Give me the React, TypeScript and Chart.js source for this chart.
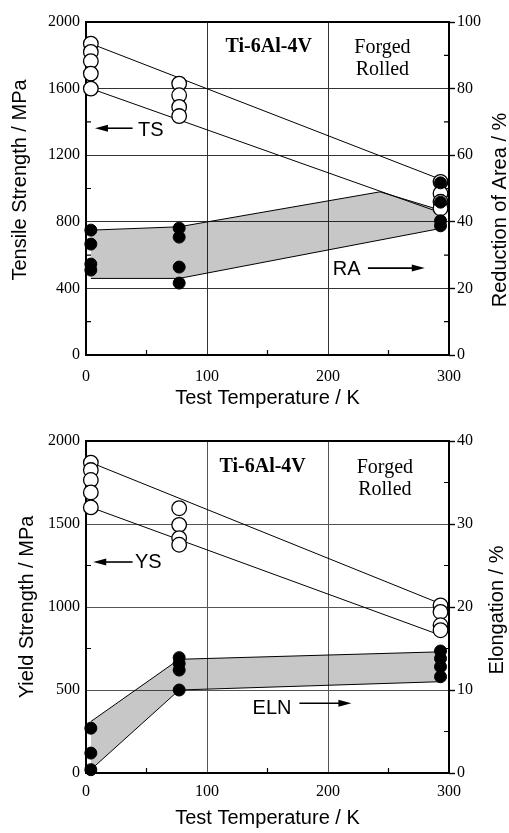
import React, { useEffect, useRef } from "react";
import { Chart, registerables } from "chart.js";

Chart.register(...registerables);

// ---------------- data ----------------
const T_4K = 4;
const T_77K = 77;
const T_RT = 293;

// Upper panel: tensile strength (MPa, left axis) and reduction of area (%, right axis)
const TS_4K = [1870, 1820, 1765, 1690, 1600];
const TS_77K = [1630, 1560, 1490, 1435];
const TS_RT = [1040, 970, 920, 880];
const RA_4K = [37.5, 33.3, 27.3, 25.5];
const RA_77K = [38.1, 35.4, 26.4, 21.6];
const RA_RT = [51.7, 45.9, 40.3, 38.8];
const TS_TREND_X = [4, 293];
const TS_TREND_UPPER = [1870, 1055];
const TS_TREND_LOWER = [1600, 855];
const RA_BAND_TOP_X = [4, 77, 243, 293];
const RA_BAND_TOP = [37.5, 38.5, 49, 43.5];
const RA_BAND_BOTTOM_X = [4, 77, 293];
const RA_BAND_BOTTOM = [23, 23, 38];

// Lower panel: yield strength (MPa, left axis) and elongation (%, right axis)
const YS_4K = [1870, 1825, 1765, 1690, 1600];
const YS_77K = [1595, 1495, 1415, 1375];
const YS_RT = [1010, 970, 890, 860];
const ELN_4K = [5.4, 2.4, 0.4];
const ELN_77K = [13.9, 13.2, 12.4, 10.0];
const ELN_RT = [14.7, 13.8, 12.8, 11.6];
const YS_TREND_X = [4, 293];
const YS_TREND_UPPER = [1870, 1020];
const YS_TREND_LOWER = [1600, 830];
const ELN_BAND_X = [4, 77, 293];
const ELN_BAND_TOP = [6.2, 13.7, 14.6];
const ELN_BAND_BOTTOM = [0.4, 10.0, 11.0];

// ticks
const X_MINOR = [50, 150, 250];
const TS_MINOR = [200, 600, 1000, 1400, 1800];
const RA_MINOR = [10, 30, 50, 70, 90];
const YS_MINOR = [250, 750, 1250, 1750];
const ELN_MINOR = [5, 15, 25, 35];

// texts
const X_TITLE = "Test Temperature / K";
const ALLOY = "Ti-6Al-4V";
const PROC1 = "Forged";
const PROC2 = "Rolled";

// ---------------- helpers ----------------
const SERIF = "'Liberation Serif', 'Times New Roman', serif";
const SANS = "'Liberation Sans', Arial, sans-serif";

type Pt = { x: number; y: number };
const column = (t: number, ys: number[]): Pt[] => ys.map((y) => ({ x: t, y }));
const pairs = (xs: number[], ys: number[]): Pt[] => xs.map((x, i) => ({ x, y: ys[i] }));

type Note =
  | { kind: "text"; text: string; x: number; y: number; axis: "y" | "y2"; font: string; align: CanvasTextAlign }
  | { kind: "arrow"; x1: number; x2: number; y: number; axis: "y" | "y2" };

interface Panel {
  height: number;
  padTop: number;
  xAxisHeight: number;
  xTickPad: number;
  xTitlePad: number;
  yMax: number;
  yStep: number;
  y2Max: number;
  y2Step: number;
  yMinor: number[];
  y2Minor: number[];
  gridColor: string;
  gridDash: number[];
  open: Pt[];
  filled: Pt[];
  upper: Pt[];
  lower: Pt[];
  bandTop: Pt[];
  bandBottom: Pt[];
  leftTitle: string;
  rightTitle: string;
  leftTitlePos: [number, number];
  rightTitlePos: [number, number];
  notes: Note[];
}

const noteFontBig = `bold 20px ${SERIF}`;
const noteFont = `20px ${SERIF}`;
const labelFont = `20px ${SANS}`;

const TOP: Panel = {
  height: 410,
  padTop: 22,
  xAxisHeight: 55,
  xTickPad: 12,
  xTitlePad: 0,
  yMax: 2000,
  yStep: 400,
  y2Max: 100,
  y2Step: 20,
  yMinor: TS_MINOR,
  y2Minor: RA_MINOR,
  gridColor: "#333",
  gridDash: [],
  open: [...column(T_4K, TS_4K), ...column(T_77K, TS_77K), ...column(T_RT, TS_RT)],
  filled: [...column(T_4K, RA_4K), ...column(T_77K, RA_77K), ...column(T_RT, RA_RT)],
  upper: pairs(TS_TREND_X, TS_TREND_UPPER),
  lower: pairs(TS_TREND_X, TS_TREND_LOWER),
  bandTop: pairs(RA_BAND_TOP_X, RA_BAND_TOP),
  bandBottom: pairs(RA_BAND_BOTTOM_X, RA_BAND_BOTTOM),
  leftTitle: "Tensile Strength / MPa",
  rightTitle: "Reduction of Area / %",
  leftTitlePos: [20, 180],
  rightTitlePos: [500, 210],
  notes: [
    { kind: "text", text: ALLOY, x: 151, y: 1850, axis: "y", font: noteFontBig, align: "center" },
    { kind: "text", text: PROC1, x: 245, y: 1844, axis: "y", font: noteFont, align: "center" },
    { kind: "text", text: PROC2, x: 245, y: 1712, axis: "y", font: noteFont, align: "center" },
    { kind: "text", text: "TS", x: 43, y: 1350, axis: "y", font: labelFont, align: "left" },
    { kind: "arrow", x1: 38.5, x2: 7.4, y: 1362, axis: "y" },
    { kind: "text", text: "RA", x: 204, y: 25.8, axis: "y2", font: labelFont, align: "left" },
    { kind: "arrow", x1: 233, x2: 280, y: 26.1, axis: "y2" },
  ],
};

const BOTTOM: Panel = {
  height: 423,
  padTop: 31,
  xAxisHeight: 60,
  xTickPad: 9,
  xTitlePad: 3,
  yMax: 2000,
  yStep: 500,
  y2Max: 40,
  y2Step: 10,
  yMinor: YS_MINOR,
  y2Minor: ELN_MINOR,
  gridColor: "#555",
  gridDash: [2, 2],
  open: [...column(T_4K, YS_4K), ...column(T_77K, YS_77K), ...column(T_RT, YS_RT)],
  filled: [...column(T_4K, ELN_4K), ...column(T_77K, ELN_77K), ...column(T_RT, ELN_RT)],
  upper: pairs(YS_TREND_X, YS_TREND_UPPER),
  lower: pairs(YS_TREND_X, YS_TREND_LOWER),
  bandTop: pairs(ELN_BAND_X, ELN_BAND_TOP),
  bandBottom: pairs(ELN_BAND_X, ELN_BAND_BOTTOM),
  leftTitle: "Yield Strength / MPa",
  rightTitle: "Elongation / %",
  leftTitlePos: [27, 197],
  rightTitlePos: [497, 200],
  notes: [
    { kind: "text", text: ALLOY, x: 146, y: 1843, axis: "y", font: noteFontBig, align: "center" },
    { kind: "text", text: PROC1, x: 247, y: 1837, axis: "y", font: noteFont, align: "center" },
    { kind: "text", text: PROC2, x: 247, y: 1705, axis: "y", font: noteFont, align: "center" },
    { kind: "text", text: "YS", x: 40.5, y: 1271, axis: "y", font: labelFont, align: "left" },
    { kind: "arrow", x1: 38.5, x2: 6, y: 1271, axis: "y" },
    { kind: "text", text: "ELN", x: 137.7, y: 7.8, axis: "y2", font: labelFont, align: "left" },
    { kind: "arrow", x1: 176.4, x2: 219.3, y: 8.4, axis: "y2" },
  ],
};

function decorPlugin(p: Panel) {
  return {
    id: "decor",
    beforeDatasetsDraw(chart: any) {
      const { ctx, chartArea: a, scales } = chart;
      ctx.save();
      ctx.strokeStyle = "#000";
      ctx.lineWidth = 1.2;
      const tl = 5;
      ctx.beginPath();
      X_MINOR.forEach((v) => {
        const px = scales.x.getPixelForValue(v);
        ctx.moveTo(px, a.bottom);
        ctx.lineTo(px, a.bottom - tl);
      });
      p.yMinor.forEach((v) => {
        const py = scales.y.getPixelForValue(v);
        ctx.moveTo(a.left, py);
        ctx.lineTo(a.left + tl, py);
      });
      p.y2Minor.forEach((v) => {
        const py = scales.y2.getPixelForValue(v);
        ctx.moveTo(a.right, py);
        ctx.lineTo(a.right - tl, py);
      });
      ctx.stroke();
      ctx.lineWidth = 2;
      ctx.strokeRect(a.left, a.top, a.right - a.left, a.bottom - a.top);
      ctx.restore();
    },
    afterDatasetsDraw(chart: any) {
      const { ctx, scales } = chart;
      ctx.save();
      ctx.fillStyle = "#000";
      ctx.strokeStyle = "#000";
      p.notes.forEach((n) => {
        const ys = scales[n.axis];
        if (n.kind === "text") {
          ctx.font = n.font;
          ctx.textAlign = n.align;
          ctx.textBaseline = "middle";
          ctx.fillText(n.text, scales.x.getPixelForValue(n.x), ys.getPixelForValue(n.y));
        } else {
          const x1 = scales.x.getPixelForValue(n.x1);
          const x2 = scales.x.getPixelForValue(n.x2);
          const y = ys.getPixelForValue(n.y);
          const dir = x2 > x1 ? 1 : -1;
          const head = 13;
          ctx.lineWidth = 1.6;
          ctx.beginPath();
          ctx.moveTo(x1, y);
          ctx.lineTo(x2 - dir * head * 0.8, y);
          ctx.stroke();
          ctx.beginPath();
          ctx.moveTo(x2, y);
          ctx.lineTo(x2 - dir * head, y - 3.5);
          ctx.lineTo(x2 - dir * head, y + 3.5);
          ctx.closePath();
          ctx.fill();
        }
      });
      ctx.restore();
    },
    afterDraw(chart: any) {
      const { ctx } = chart;
      ctx.save();
      ctx.fillStyle = "#000";
      ctx.font = `20px ${SANS}`;
      ctx.textAlign = "center";
      ctx.textBaseline = "middle";
      const draw = (t: string, pos: [number, number]) => {
        ctx.save();
        ctx.translate(pos[0], pos[1]);
        ctx.rotate(-Math.PI / 2);
        ctx.fillText(t, 0, 0);
        ctx.restore();
      };
      draw(p.leftTitle, p.leftTitlePos);
      draw(p.rightTitle, p.rightTitlePos);
      ctx.restore();
    },
  };
}

const plain = (v: any) => String(v);

function makeConfig(p: Panel): any {
  const tickFont = { family: SERIF, size: 16 };
  return {
    type: "line",
    data: {
      datasets: [
        {
          data: p.filled,
          yAxisID: "y2",
          showLine: false,
          pointRadius: 6,
          pointBackgroundColor: "#000",
          pointBorderColor: "#000",
          pointBorderWidth: 1,
          clip: false,
        },
        {
          data: p.open,
          yAxisID: "y",
          showLine: false,
          pointRadius: 7.3,
          pointBackgroundColor: "#fff",
          pointBorderColor: "#000",
          pointBorderWidth: 1.3,
          clip: false,
        },
        { data: p.upper, yAxisID: "y", borderColor: "#000", borderWidth: 1, pointRadius: 0, fill: false, tension: 0 },
        { data: p.lower, yAxisID: "y", borderColor: "#000", borderWidth: 1, pointRadius: 0, fill: false, tension: 0 },
        {
          data: p.bandTop,
          yAxisID: "y2",
          borderColor: "#000",
          borderWidth: 1,
          pointRadius: 0,
          fill: "+1",
          backgroundColor: "rgba(0,0,0,0.22)",
          tension: 0,
        },
        { data: p.bandBottom, yAxisID: "y2", borderColor: "#000", borderWidth: 1, pointRadius: 0, fill: false, tension: 0 },
      ],
    },
    options: {
      animation: false,
      responsive: false,
      devicePixelRatio: 1,
      layout: { padding: { top: p.padTop, left: 0, right: 0, bottom: 0 } },
      plugins: { legend: { display: false }, tooltip: { enabled: false } },
      scales: {
        x: {
          type: "linear",
          position: "bottom",
          min: 0,
          max: 300,
          afterFit: (s: any) => {
            s.height = p.xAxisHeight;
          },
          ticks: { stepSize: 100, font: tickFont, color: "#000", padding: p.xTickPad, maxRotation: 0, callback: plain },
          grid: { color: p.gridColor, lineWidth: 1, drawTicks: false, borderDash: p.gridDash },
          border: { display: false },
          title: {
            display: true,
            text: X_TITLE,
            color: "#000",
            font: { family: SANS, size: 20 },
            padding: { top: 0, bottom: p.xTitlePad },
          },
        },
        y: {
          type: "linear",
          position: "left",
          min: 0,
          max: p.yMax,
          afterFit: (s: any) => {
            s.width = 86;
          },
          ticks: { stepSize: p.yStep, font: tickFont, color: "#000", padding: 6, callback: plain },
          grid: { color: p.gridColor, lineWidth: 1, drawTicks: false, borderDash: p.gridDash },
          border: { display: false },
        },
        y2: {
          type: "linear",
          position: "right",
          min: 0,
          max: p.y2Max,
          afterFit: (s: any) => {
            s.width = 60;
          },
          ticks: { stepSize: p.y2Step, font: tickFont, color: "#000", padding: 2, callback: plain },
          grid: { drawOnChartArea: false, drawTicks: true, tickLength: 6, tickColor: "#000", tickWidth: 1.4 },
          border: { display: false },
        },
      },
    },
    plugins: [decorPlugin(p)],
  };
}

function PanelChart({ p, top }: { p: Panel; top: number }) {
  const ref = useRef<HTMLCanvasElement>(null);
  useEffect(() => {
    if (!ref.current) return;
    const chart = new Chart(ref.current, makeConfig(p));
    return () => chart.destroy();
  }, [p]);
  return (
    <canvas
      ref={ref}
      width={509}
      height={p.height}
      style={{ position: "absolute", left: 0, top, width: 509, height: p.height, display: "block" }}
    />
  );
}

export default function App() {
  return (
    <div style={{ position: "absolute", left: 0, top: 0, width: 509, height: 833, background: "#fff" }}>
      <PanelChart p={TOP} top={0} />
      <PanelChart p={BOTTOM} top={410} />
    </div>
  );
}
